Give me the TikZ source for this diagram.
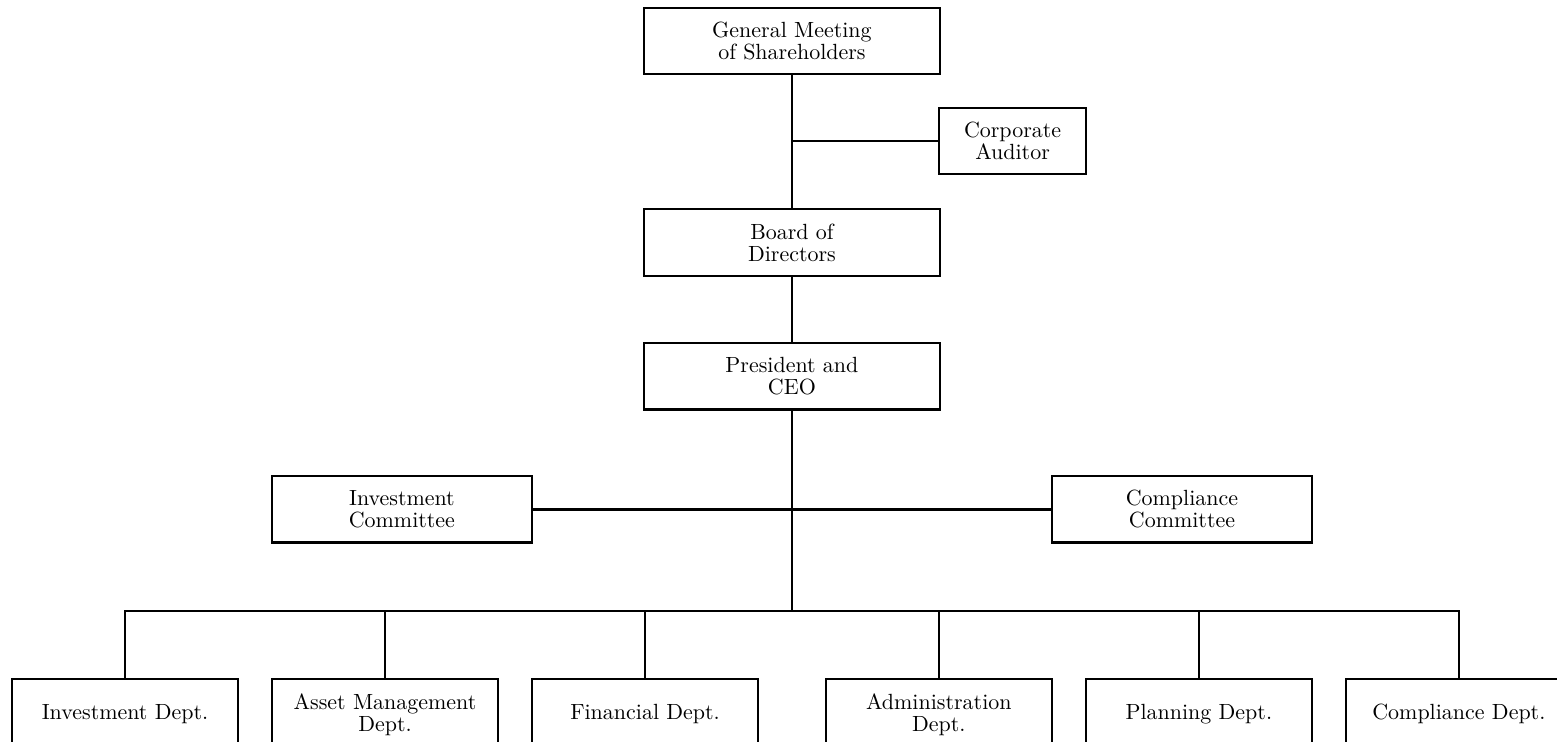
\documentclass[tikz,border=0pt]{standalone}
\usepackage{amssymb, amsmath}
\usepackage{tikz}
\usetikzlibrary{calc}

\begin{document}
\begin{tikzpicture}[scale=1,
    unit/.style={draw, line width=1pt, align=center, inner sep=0pt,
      font=\fontsize{10}{10}\selectfont, minimum height=1.06cm},
    wide/.style={unit, minimum width=4.74cm},
    small/.style={unit, minimum width=2.35cm},
    cmte/.style={unit, minimum width=4.16cm},
    dept/.style={unit, minimum width=3.62cm, minimum height=1.12cm, anchor=north},
    link/.style={line width=1pt}]
  \useasboundingbox (0, 0) rectangle (24.91, -11.87);
  \clip (0, 0) rectangle (24.91, -11.87);

  % top of the chart
  \node[wide] (gm) at (12.67, -0.66) {General Meeting\\of Shareholders};
  \node[small] (aud) at (16.2, -2.26) {Corporate\\Auditor};
  \node[wide] (board) at (12.67, -3.88) {Board of\\Directors};
  \node[wide] (ceo) at (12.67, -6.02) {President and\\CEO};

  \node[cmte] (invc) at (6.43, -8.15) {Investment\\Committee};
  \node[cmte] (compc) at (18.91, -8.15) {Compliance\\Committee};

  \coordinate (bus) at (12.67, -9.78);

  % departments
  \node[dept] (d1) at (2.0, -10.85) {Investment Dept.};
  \node[dept] (d2) at (6.16, -10.85) {Asset Management\\Dept.};
  \node[dept] (d3) at (10.32, -10.85) {Financial Dept.};
  \node[dept] (d4) at (15.02, -10.85) {Administration\\Dept.};
  \node[dept] (d5) at (19.18, -10.85) {Planning Dept.};
  \node[dept] (d6) at (23.34, -10.85) {Compliance Dept.};

  \draw[link] (gm.south) -- (board.north);
  \draw[link] (aud.west) -- (aud.west -| gm.south);
  \draw[link] (board.south) -- (ceo.north);
  \draw[link] (ceo.south) -- (bus);
  \draw[link] (invc.east) -- (compc.west);
  \draw[link] (d1.north) -- (d1.north |- bus) -- (d6.north |- bus) -- (d6.north);
  \foreach \d in {d2, d3, d4, d5} {
    \draw[link] (\d.north) -- (\d.north |- bus);
  }

\end{tikzpicture}
\end{document}
